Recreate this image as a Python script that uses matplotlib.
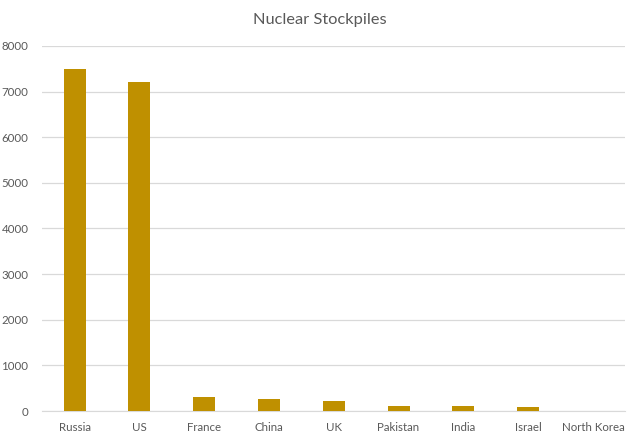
import matplotlib.pyplot as plt

# data
countries = ['Russia', 'US', 'France', 'China', 'UK', 'Pakistan', 'India', 'Israel', 'North Korea']
warheads = [7500, 7200, 300, 260, 215, 120, 110, 80, 10]
yticks = [0, 1000, 2000, 3000, 4000, 5000, 6000, 7000, 8000]

plt.rcParams['font.family'] = ['Lato', 'DejaVu Sans']

fig = plt.figure(figsize=(6.4, 4.41), dpi=100)
ax = fig.add_axes([0.066, 0.068, 0.911, 0.828])

ax.bar(range(len(countries)), warheads, width=0.34, color='#BF9000', zorder=3)

ax.set_xlim(-0.5, len(countries) - 0.5)
ax.set_ylim(0, 8000)
ax.set_yticks(yticks)
ax.set_xticks(range(len(countries)))
ax.set_xticklabels(countries)
ax.grid(axis='y', color='#D9D9D9', linewidth=0.9, zorder=0)
ax.tick_params(length=0, labelsize=8.3, colors='#595959', pad=8)
ax.tick_params(axis='y', pad=10)
for s in ['top', 'right', 'left']:
    ax.spines[s].set_visible(False)
ax.spines['bottom'].set_color('#D9D9D9')

fig.text(0.5, 0.955, 'Nuclear Stockpiles', ha='center', va='center',
         fontsize=11.8, color='#595959')

fig.savefig('out.png')
